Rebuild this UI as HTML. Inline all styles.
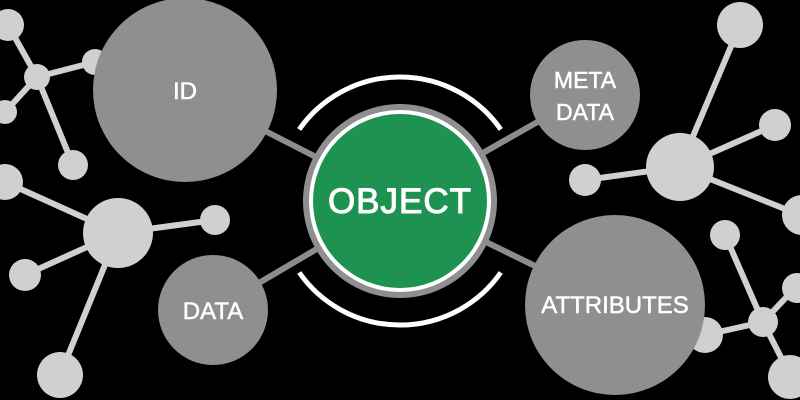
<!DOCTYPE html>
<html><head><meta charset="utf-8"><style>
html,body{margin:0;padding:0;background:#000;}
svg{display:block}
text{font-family:"Liberation Sans",sans-serif;fill:#fff;text-anchor:middle}
</style></head><body>
<svg width="800" height="400" viewBox="0 0 800 400" xmlns="http://www.w3.org/2000/svg">
<rect width="800" height="400" fill="#000"/>
<g stroke="#d0d0d0" stroke-width="6">
<line x1="37" y1="77" x2="8" y2="25"/><line x1="37" y1="77" x2="95" y2="62"/>
<line x1="37" y1="77" x2="5" y2="112"/><line x1="37" y1="77" x2="73" y2="165"/>
<line x1="118" y1="233" x2="5" y2="182"/><line x1="118" y1="233" x2="215" y2="220"/>
<line x1="118" y1="233" x2="25" y2="275"/><line x1="118" y1="233" x2="60" y2="375"/>
<line x1="680" y1="167" x2="740" y2="25"/><line x1="680" y1="167" x2="775" y2="125"/>
<line x1="680" y1="167" x2="585" y2="180"/><line x1="680" y1="167" x2="800" y2="215"/>
<line x1="763" y1="322" x2="725" y2="235"/><line x1="763" y1="322" x2="705" y2="335"/>
<line x1="763" y1="322" x2="795" y2="288"/><line x1="763" y1="322" x2="790" y2="375"/>
</g>
<g stroke="#8c8c8c" stroke-width="6">
<line x1="185" y1="90" x2="400" y2="200"/><line x1="213" y1="310" x2="400" y2="200"/>
<line x1="585" y1="95" x2="400" y2="200"/><line x1="615" y1="305" x2="400" y2="200"/>
</g>
<g fill="#d0d0d0">
<circle cx="8" cy="25" r="16"/><circle cx="37" cy="77" r="13"/><circle cx="95" cy="62" r="13"/>
<circle cx="5" cy="112" r="12"/><circle cx="73" cy="165" r="15"/>
<circle cx="5" cy="182" r="18"/><circle cx="118" cy="233" r="35"/><circle cx="215" cy="220" r="15"/>
<circle cx="25" cy="275" r="16"/><circle cx="60" cy="375" r="23"/>
<circle cx="740" cy="25" r="23"/><circle cx="680" cy="167" r="34"/><circle cx="775" cy="125" r="16"/>
<circle cx="585" cy="180" r="16"/><circle cx="802" cy="215" r="20"/>
<circle cx="725" cy="235" r="15"/><circle cx="763" cy="322" r="15"/><circle cx="797" cy="288" r="15"/>
<circle cx="790" cy="377" r="22"/><circle cx="705" cy="335" r="18"/>
</g>
<g fill="#8f8f8f">
<circle cx="185" cy="90" r="92"/><circle cx="213" cy="310" r="55"/>
<circle cx="585" cy="95" r="55"/><circle cx="615" cy="305" r="90"/>
</g>
<circle cx="400" cy="201" r="97" fill="#8f8f8f"/>
<circle cx="400" cy="201" r="91" fill="#fff"/>
<circle cx="400" cy="201" r="87" fill="#1e9250"/>
<g fill="none" stroke="#fff" stroke-width="5">
<path d="M 299.2 129.5 A 123 123 0 0 1 500.8 129.5"/>
<path d="M 299.2 272.5 A 123 123 0 0 0 500.8 272.5"/>
</g>
<text x="400" y="213" font-size="35" letter-spacing="1" stroke="#fff" stroke-width="1">OBJECT</text>
<text x="185" y="99" font-size="24" stroke="#fff" stroke-width="0.5">ID</text>
<text x="213" y="319" font-size="24" stroke="#fff" stroke-width="0.5">DATA</text>
<text x="585" y="88" font-size="23" stroke="#fff" stroke-width="0.5">META</text>
<text x="585" y="120" font-size="23" stroke="#fff" stroke-width="0.5">DATA</text>
<text x="615" y="313" font-size="24" stroke="#fff" stroke-width="0.5">ATTRIBUTES</text>
</svg>
</body></html>
